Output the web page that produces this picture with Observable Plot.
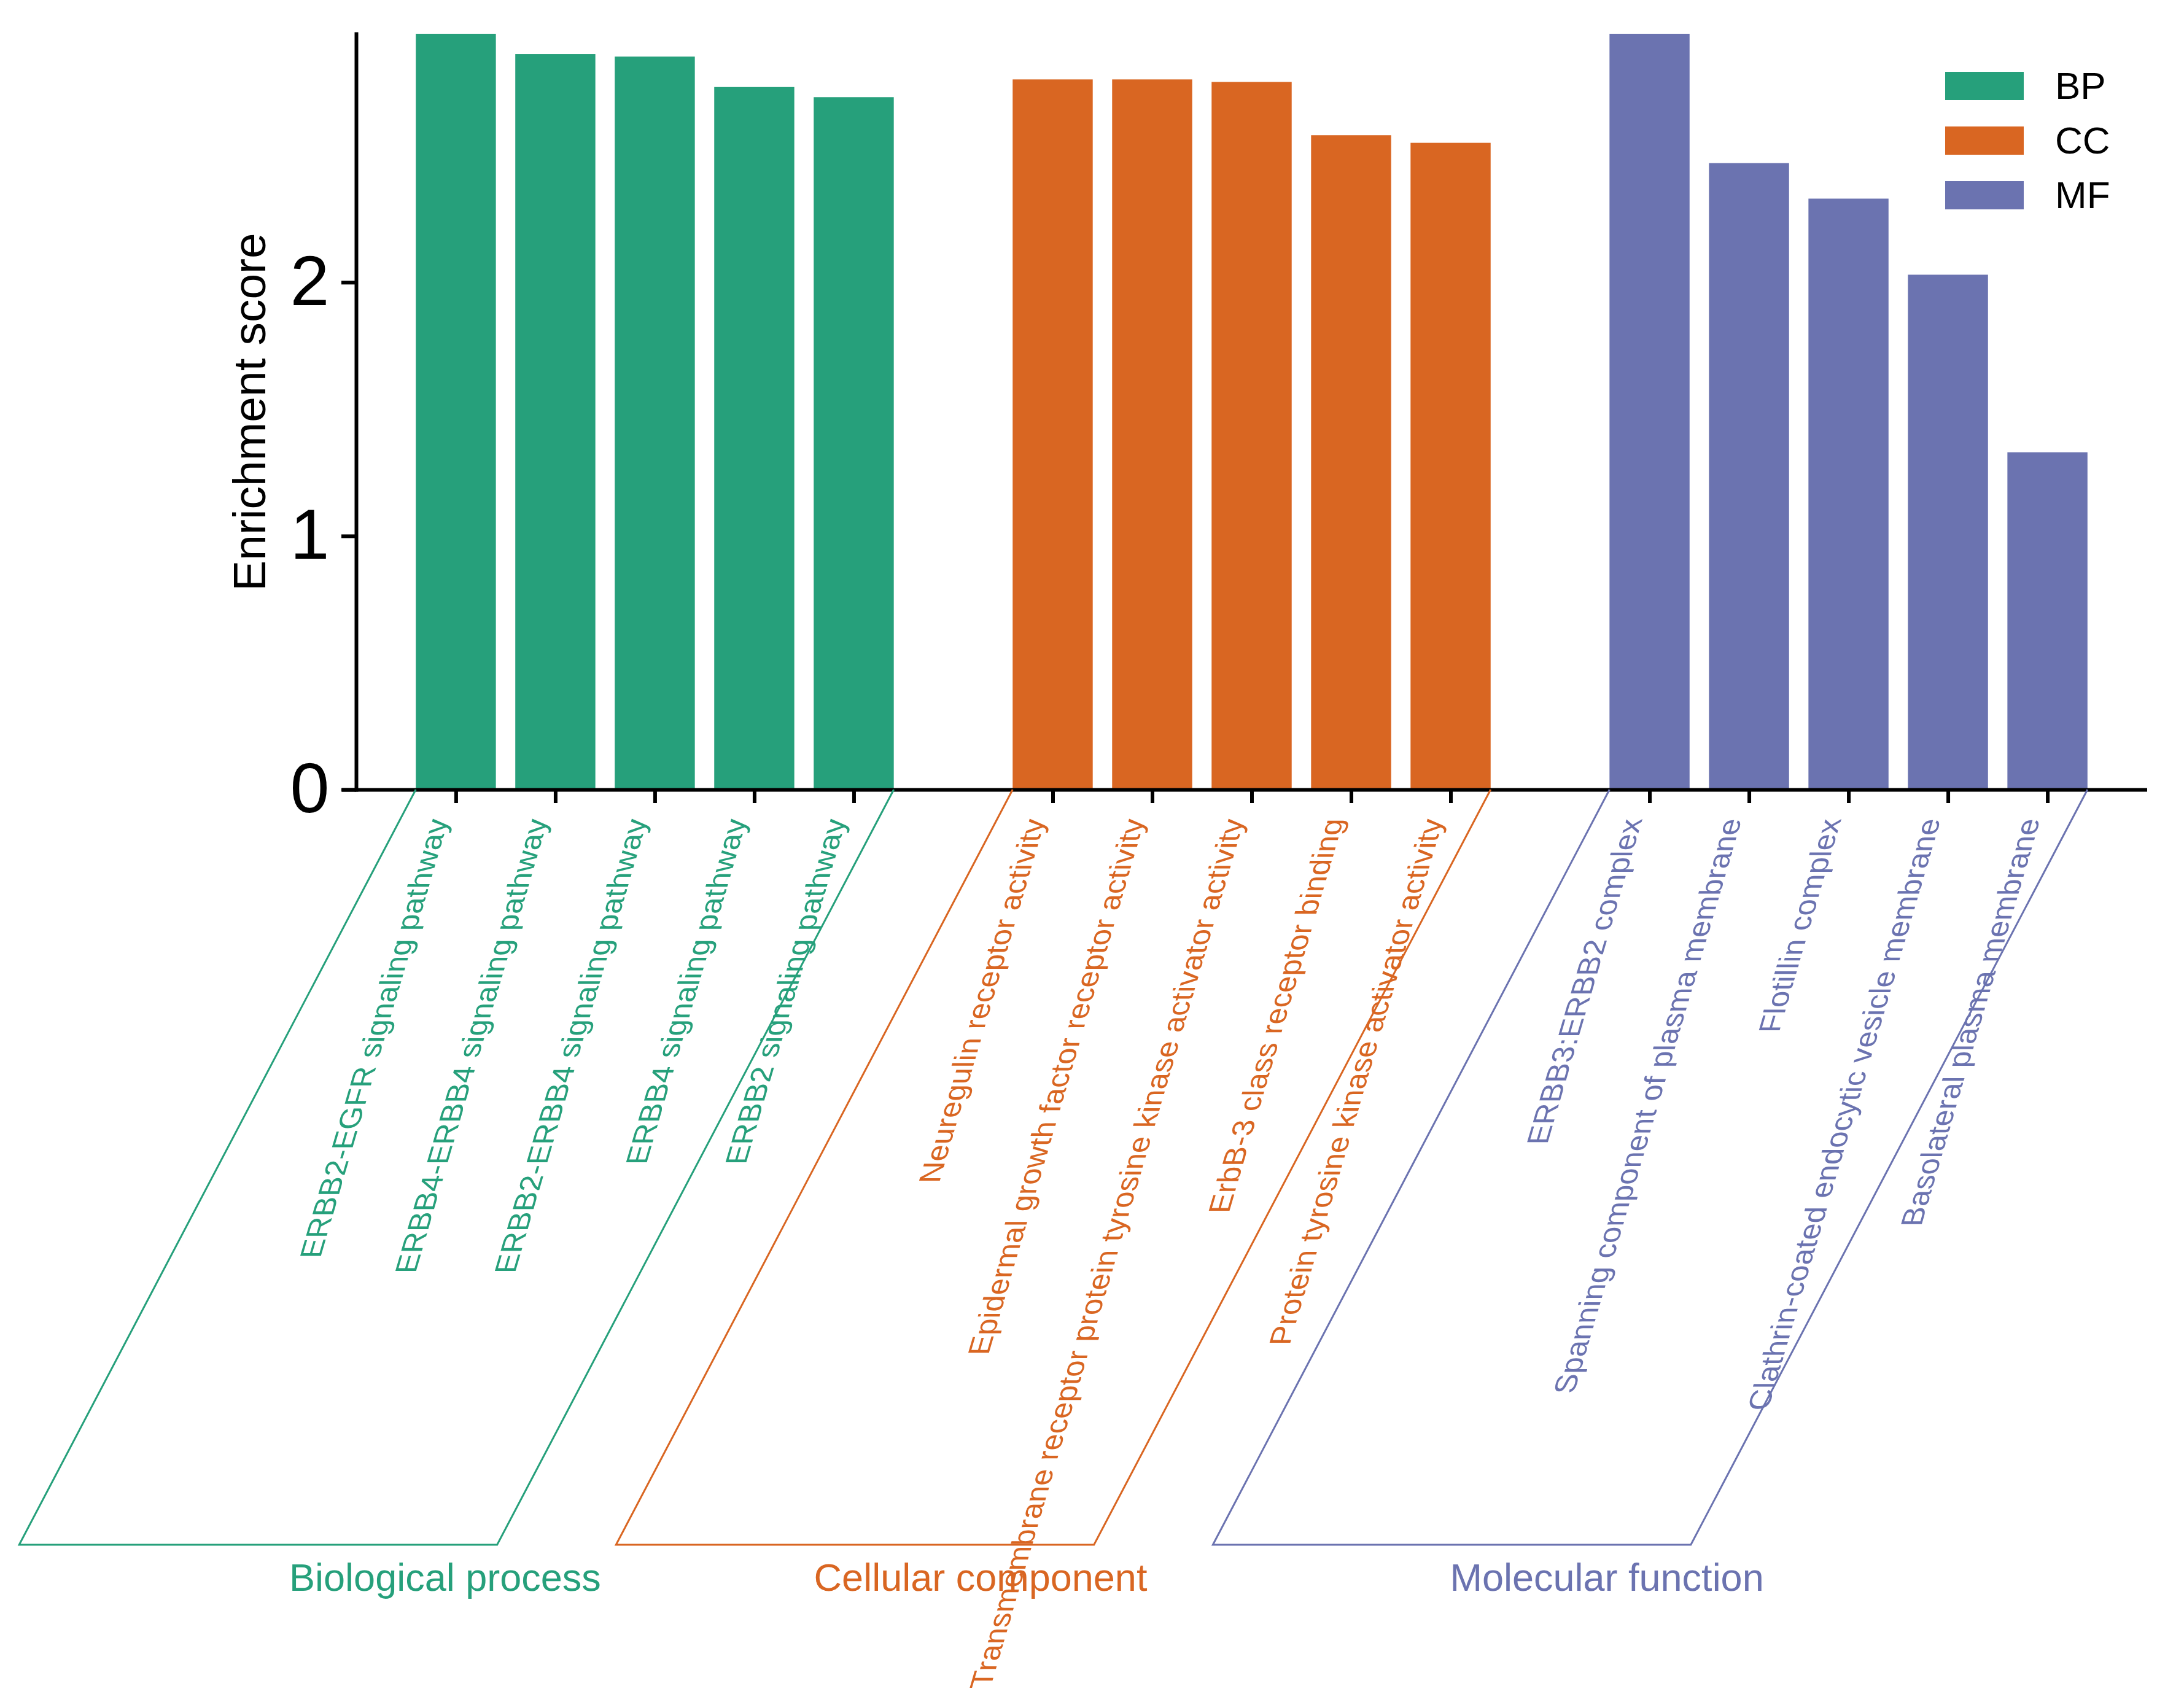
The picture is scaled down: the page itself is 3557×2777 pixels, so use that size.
<!DOCTYPE html>
<html><head><meta charset="utf-8">
<script src="https://cdn.jsdelivr.net/npm/d3@7"></script>
<script src="https://cdn.jsdelivr.net/npm/@observablehq/plot@0.6"></script>
<style>
html,body{margin:0;padding:0;background:#fff;}
#wrap{position:relative;width:3557px;height:2777px;font-family:"Liberation Sans",Arial,sans-serif;}
#legend{position:absolute;left:3168px;top:117px;}
.item{position:absolute;left:0;display:flex;align-items:center;height:46px;white-space:nowrap;}
.sw{width:128px;height:46px;}
.lab{margin-left:51px;font-size:62px;color:#000;line-height:46px;}
</style></head><body><div id="wrap"></div>
<script>
const groupCodes = ["BP", "CC", "MF"];
const groupNames = ["Biological process", "Cellular component", "Molecular function"];
const groupColors = ["#26a07b", "#d96622", "#6b73b0"];

const bpTerms = ["ERBB2-EGFR signaling pathway", "ERBB4-ERBB4 signaling pathway", "ERBB2-ERBB4 signaling pathway", "ERBB4 signaling pathway", "ERBB2 signaling pathway"];
const bpScores = [2.98, 2.90, 2.89, 2.77, 2.73];
const ccTerms = ["Neuregulin receptor activity", "Epidermal growth factor receptor activity", "Transmembrane receptor protein tyrosine kinase activator activity", "ErbB-3 class receptor binding", "Protein tyrosine kinase activator activity"];
const ccScores = [2.80, 2.80, 2.79, 2.58, 2.55];
const mfTerms = ["ERBB3:ERBB2 complex", "Spanning component of plasma membrane", "Flotillin complex", "Clathrin-coated endocytic vesicle membrane", "Basolateral plasma membrane"];
const mfScores = [2.98, 2.47, 2.33, 2.03, 1.33];
const gapKeys = ["gap1", "gap2"];
const yTicks = [0, 1, 2];
const yTitle = "Enrichment score";

// layout: horizontal nudge (px) of each group caption from its middle bar
const groupLabelDx = [-342, -442, -394];

const termLists = [bpTerms, ccTerms, mfTerms];
const scoreLists = [bpScores, ccScores, mfScores];
const rows = [];
groupCodes.forEach((g, i) => termLists[i].forEach((t, j) => rows.push({term: t, score: scoreLists[i][j], group: g})));
const domain = [...bpTerms, gapKeys[0], ...ccTerms, gapKeys[1], ...mfTerms];
const allTerms = [...bpTerms, ...ccTerms, ...mfTerms];
const groupRows = groupCodes.map((g, i) => ({
  group: g, name: groupNames[i], mid: termLists[i][2],
  first: termLists[i][0], last: termLists[i][termLists[i].length - 1], color: groupColors[i]
}));

const plot = Plot.plot({
  width: 3557, height: 2777,
  marginLeft: 580, marginRight: 60, marginTop: 55, marginBottom: 1491,
  style: {fontFamily: "Liberation Sans, Arial, sans-serif", background: "white", overflow: "visible"},
  x: {type: "band", domain, paddingInner: 0.195, paddingOuter: 0.6, round: false},
  y: {domain: [0, d3.max(rows, d => d.score)]},
  color: {domain: groupCodes, range: groupColors},
  marks: [
    Plot.barY(rows, {x: "term", y: "score", fill: "group"}),
    Plot.frame({anchor: "left", stroke: "black", strokeWidth: 6}),
    Plot.ruleY([0], {stroke: "black", strokeWidth: 6, insetLeft: -23}),
    Plot.axisY({ticks: yTicks, tickSize: 24, tickPadding: 20, fontSize: 115, strokeWidth: 6, label: null, tickFormat: d3.format("d")}),
    Plot.axisX({ticks: allTerms, tickSize: 22, strokeWidth: 6, tickFormat: () => "", label: null}),
    Plot.text(rows, {x: "term", text: "term", fill: "group", frameAnchor: "bottom", rotate: -90, textAnchor: "end", dx: -12, dy: 47, fontSize: 49}),
    ...groupRows.map((g, i) => Plot.text([g], {x: "mid", text: "name", fill: "group", frameAnchor: "bottom", dx: groupLabelDx[i], dy: 1304, fontSize: 63})),
    Plot.text([yTitle], {text: d => d, frameAnchor: "left", rotate: -90, textAnchor: "middle", dx: -173, fontSize: 75, fill: "black"})
  ]
});

const wrap = document.getElementById("wrap");
wrap.appendChild(plot);
const svg = d3.select(plot);

// slant the rotated category labels (skewed vertical text)
const termSet = new Set(allTerms);
svg.selectAll("text").each(function () {
  const t = this.getAttribute("transform");
  if (termSet.has(this.textContent) && t && t.includes("rotate(-90)")) {
    this.setAttribute("transform", t.replace("rotate(-90)", "skewX(-16.3) rotate(-90)"));
  }
});

// group brackets (parallelograms) from the x/y scales
const xs = plot.scale("x"), ys = plot.scale("y");
const y0 = ys.apply(0);
const slantX = -646, slantY = 1230;
const gb = svg.append("g").attr("fill", "none").attr("stroke-width", 3);
groupRows.forEach(g => {
  const L = xs.apply(g.first), R = xs.apply(g.last) + xs.bandwidth;
  gb.append("path")
    .attr("stroke", g.color)
    .attr("d", `M${L},${y0}L${L + slantX},${y0 + slantY}L${R + slantX},${y0 + slantY}L${R},${y0}`);
});

// legend
const legend = d3.select(wrap).append("div").attr("id", "legend");
groupCodes.forEach((g, i) => {
  const it = legend.append("div").attr("class", "item").style("top", `${i * 89}px`);
  it.append("div").attr("class", "sw").style("background", groupColors[i]);
  it.append("div").attr("class", "lab").text(g);
});
</script>
</body></html>
